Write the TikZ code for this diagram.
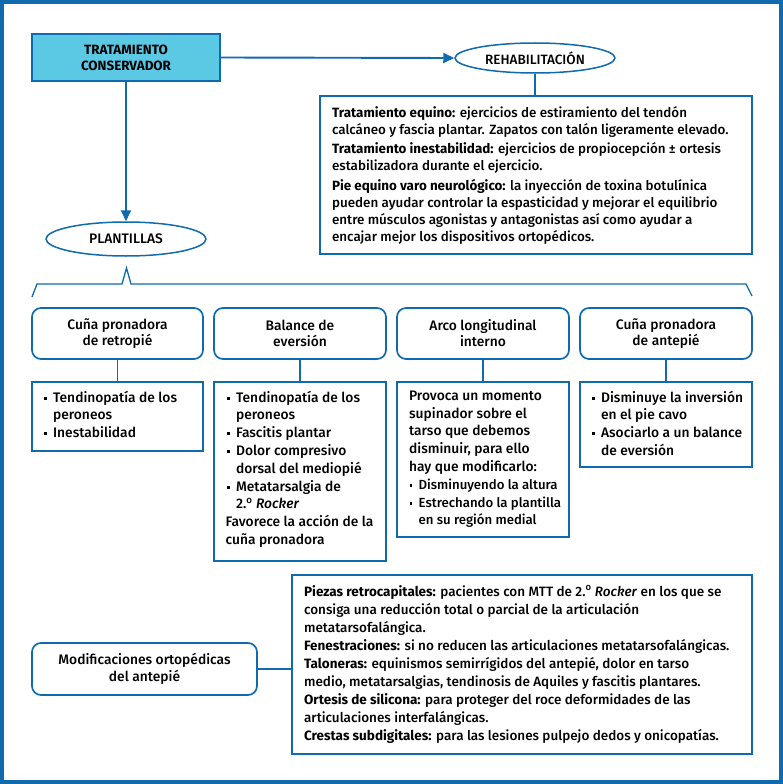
\documentclass[tikz,border=0pt]{standalone}
\usepackage{fontspec}
\setmainfont{Fira Sans Medium}[BoldFont={Fira Sans Bold},ItalicFont={Fira Sans Medium Italic}]
\usetikzlibrary{shapes.geometric,arrows.meta}
\definecolor{mblue}{RGB}{16,106,174}
\definecolor{mcyan}{RGB}{91,200,228}
\newcommand{\bl}{\makebox[9.5pt][l]{\hspace*{0.5pt}\raisebox{2.4pt}{\rule{2.7pt}{2.9pt}}}}
\newcommand{\ind}{\hspace*{9.5pt}}
\newcommand{\ord}{\textsuperscript{o}}
\begin{document}
\begin{tikzpicture}[x=1pt,y=-1pt,
  every node/.style={font=\fontsize{13.8}{17.8}\selectfont, text=black},
  sqbox/.style={draw=mblue, line width=2.2pt, inner sep=0pt},
  rbox/.style={draw=mblue, line width=1.7pt, rounded corners=9pt, align=center, fill=white},
  oval/.style={ellipse, draw=mblue, line width=1.5pt, inner sep=0pt},
  txt/.style={anchor=north west, align=left, inner sep=0pt},
  conn/.style={draw=mblue, line width=1.9pt},
  arr/.style={conn, -{Triangle[width=10pt,length=11pt]}},
  ]
\useasboundingbox (0,0) rectangle (783,784);
\draw[mblue, line width=4pt] (2,2) rectangle (781,782);

% top level
\node[sqbox, fill=mcyan, minimum width=188pt, minimum height=47pt, align=center,
      font=\bfseries\fontsize{13.4}{16}\selectfont] (cons) at (126,57.5) {TRATAMIENTO\\CONSERVADOR};
\node[oval, minimum width=160pt, minimum height=30pt, font=\fontsize{13.5}{16}\selectfont] (rehab) at (535,58) {REHABILITACIÓN};
\node[oval, minimum width=160pt, minimum height=34pt] (plant) at (126,239) {PLANTILLAS};

% rehabilitation box
\node[sqbox, minimum width=432pt, minimum height=158pt] (rb) at (536,175) {};
\node[txt, font=\fontsize{13.4}{17}\selectfont] (rbt) at ([xshift=13pt,yshift=-11pt]rb.north west) {%
\textbf{Tratamiento equino:} ejercicios de estiramiento del tendón\\
calcáneo y fascia plantar. Zapatos con talón ligeramente elevado.\\[2.5pt]
\textbf{Tratamiento inestabilidad:} ejercicios de propiocepción ± ortesis\\
estabilizadora durante el ejercicio.\\[2.5pt]
\textbf{Pie equino varo neurológico:} la inyección de toxina botulínica\\
pueden ayudar controlar la espasticidad y mejorar el equilibrio\\
entre músculos agonistas y antagonistas así como ayudar a\\
encajar mejor los dispositivos ortopédicos.};

\draw[arr] (cons.east) -- (rehab.west);
\draw[conn] (rehab.south) -- (rehab.south |- rb.north);
\draw[arr] (cons.south) -- (plant.north);

% bracket
\draw[mblue, line width=1.3pt] (32,297) -- (37,284) -- (122,284) -- (126.5,268) -- (131,284) -- (746,284) -- (752,296);

% plantillas
\node[rbox, minimum width=171pt, minimum height=51pt, font=\fontsize{13.8}{16}\selectfont] (r1) at (117.5,333.5) {Cuña pronadora\\de retropié};
\node[rbox, minimum width=172pt, minimum height=51pt, font=\fontsize{13.8}{16}\selectfont] (r2) at (300,333.5) {Balance de\\eversión};
\node[rbox, minimum width=172pt, minimum height=51pt, font=\fontsize{13.8}{16}\selectfont] (r3) at (483,333.5) {Arco longitudinal\\interno};
\node[rbox, minimum width=172pt, minimum height=51pt, font=\fontsize{13.8}{16}\selectfont] (r4) at (666,333.5) {Cuña pronadora\\de antepié};

\node[sqbox, anchor=north, minimum width=171pt, minimum height=69pt] (l1) at (117.5,381) {};
\node[sqbox, anchor=north, minimum width=172pt, minimum height=179pt] (l2) at (300,381) {};
\node[sqbox, anchor=north, minimum width=172pt, minimum height=155pt] (l3) at (483,381) {};
\node[sqbox, anchor=north, minimum width=172pt, minimum height=85pt] (l4) at (666,381) {};

\draw[conn] (r1.south) -- (l1.north);
\draw[conn] (r2.south) -- (l2.north);
\draw[conn] (r3.south) -- (l3.north);
\draw[conn] (r4.south) -- (l4.north);

\node[txt] (l1t) at ([xshift=12.5pt,yshift=-9.5pt]l1.north west) {%
\bl Tendinopatía de los\\
\ind peroneos\\
\bl Inestabilidad};
\node[txt] (l2t) at ([xshift=13.5pt,yshift=-9.5pt]l2.north west) {%
\bl Tendinopatía de los\\
\ind peroneos\\
\bl Fascitis plantar\\
\bl Dolor compresivo\\
\ind dorsal del mediopié\\
\bl Metatarsalgia de\\
\ind 2.\ord{} \textit{Rocker}\\
\hspace*{-1pt}Favorece la acción de la\\
\hspace*{-1pt}cuña pronadora};
\node[txt] (l3t) at ([xshift=13pt,yshift=-9.5pt]l3.north west) {%
Provoca un momento\\
supinador sobre el\\
tarso que debemos\\
disminuir, para ello\\
hay que modificarlo:\\
{\fontsize{13.2}{17.8}\selectfont\bl Disminuyendo la altura}\\
{\fontsize{13.2}{17.8}\selectfont\bl Estrechando la plantilla}\\
{\fontsize{13.2}{17.8}\selectfont\ind en su región medial}};
\node[txt] (l4t) at ([xshift=12.5pt,yshift=-9.5pt]l4.north west) {%
\bl Disminuye la inversión\\
\ind en el pie cavo\\
\bl Asociarlo a un balance\\
\ind de eversión};

% bottom
\node[rbox, minimum width=225pt, minimum height=52pt, font=\fontsize{13.8}{17}\selectfont] (mod) at (144.5,669) {Modificaciones ortopédicas\\del antepié};
\node[sqbox, minimum width=460pt, minimum height=179pt] (bot) at (522,664.5) {};
\node[txt, font=\fontsize{13.5}{18}\selectfont] (bott) at ([xshift=13pt,yshift=-11pt]bot.north west) {%
\textbf{Piezas retrocapitales:} pacientes con MTT de 2.\ord{} \textit{Rocker} en los que se\\
consiga una reducción total o parcial de la articulación\\
metatarsofalángica.\\
\textbf{Fenestraciones:} si no reducen las articulaciones metatarsofalángicas.\\
\textbf{Taloneras:} equinismos semirrígidos del antepié, dolor en tarso\\
medio, metatarsalgias, tendinosis de Aquiles y fascitis plantares.\\
\textbf{Ortesis de silicona:} para proteger del roce deformidades de las\\
articulaciones interfalángicas.\\
\textbf{Crestas subdigitales:} para las lesiones pulpejo dedos y onicopatías.};
\draw[conn] (mod.east) -- (mod.east -| bot.west);
\end{tikzpicture}
\end{document}
